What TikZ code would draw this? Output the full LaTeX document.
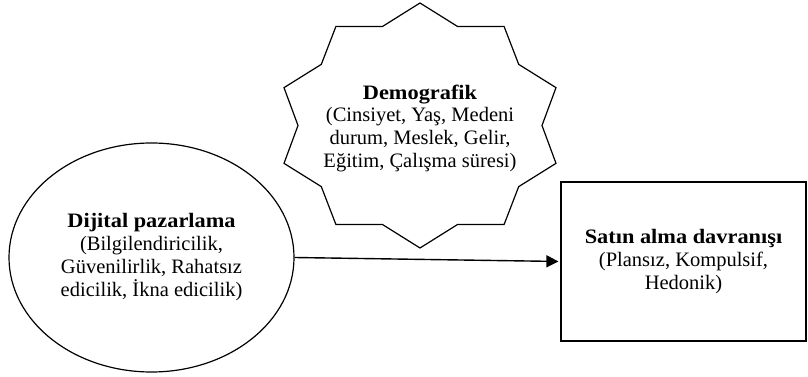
\documentclass[tikz,border=0pt]{standalone}
\usepackage{fontspec}
\setmainfont{Liberation Serif}[BoldFeatures={FakeStretch=1.09}]
\usetikzlibrary{shapes.geometric,arrows.meta}
\tikzset{
  shapeline/.style={draw, line width=1.2pt},
  label text/.style={align=center, font=\fontsize{20.5}{23}\selectfont},
  connector/.style={line width=1.4pt, shorten >=2pt, -{Triangle[length=12pt, width=12pt]}}
}

\begin{document}
\begin{tikzpicture}[x=1pt, y=1pt]
\useasboundingbox (0,0) rectangle (808,377);

% Left ellipse
\node[shapeline, label text, ellipse, minimum width=285pt, minimum height=229pt, inner sep=0pt] (dijital) at (151.5,119.5)
  {\textbf{Dijital pazarlama}\\(Bilgilendiricilik,\\Güvenilirlik, Rahatsız\\edicilik, İkna edicilik)};

% Right rectangle
\node[shapeline, label text, rectangle, minimum width=245pt, minimum height=159pt, inner sep=0pt] (satin) at (683.5,115.5)
  {\textbf{Satın alma davranışı}\\(Plansız, Kompulsif,\\Hedonik)};

% Ten-pointed star on top
\coordinate (demc) at (420,251.5);
\begin{scope}[shift={(demc)}]
\draw[shapeline, line join=miter] (90:143pt and 122.5pt)
  \foreach \a in {108,144,...,432} { -- (\a:122pt and 104pt) -- ({\a+18}:143pt and 122.5pt) } -- cycle;
\end{scope}
\node[label text, inner sep=0pt] (dem) at ([yshift=-3pt]demc)
  {\textbf{Demografik}\\(Cinsiyet, Yaş, Medeni\\durum, Meslek, Gelir,\\Eğitim, Çalışma süresi)};

% Arrow between the two boxes
\draw[connector] (dijital.east) -- (satin.west);

\end{tikzpicture}
\end{document}
